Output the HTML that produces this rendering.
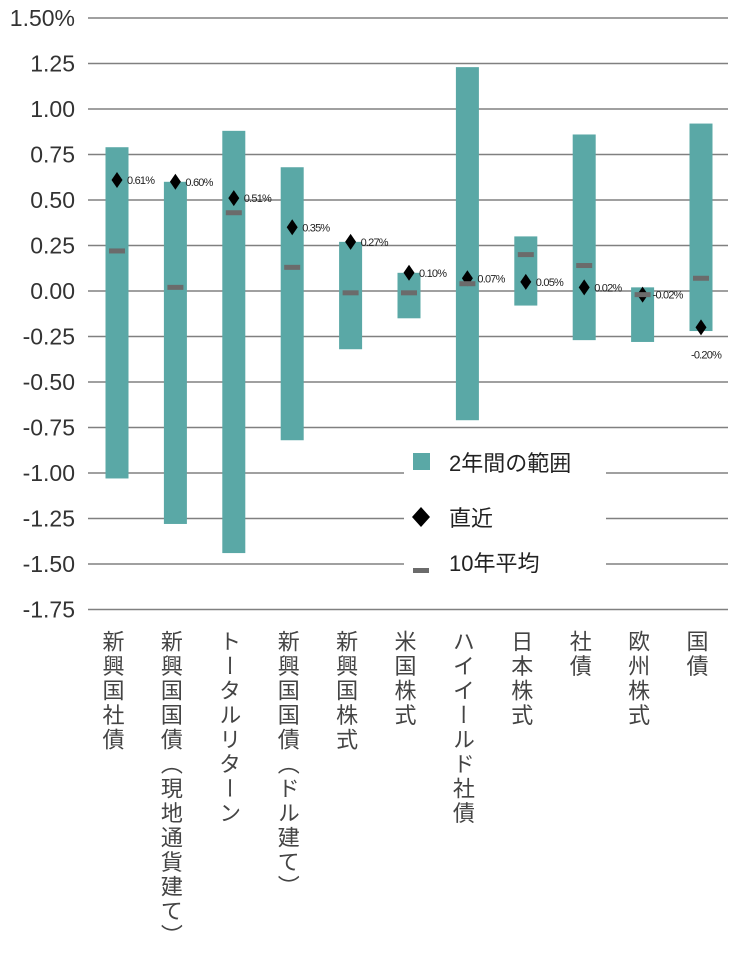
<!DOCTYPE html>
<html><head><meta charset="utf-8">
<style>
body{margin:0;background:#fff;}
svg{display:block;font-family:"Liberation Sans","Noto Sans CJK JP",sans-serif;}
</style></head>
<body>
<svg id="chart" width="736" height="958"></svg>
<script>
const categories=["新興国社債","新興国国債(現地通貨建て)","トータルリターン","新興国国債(ドル建て)","新興国株式","米国株式","ハイイールド社債","日本株式","社債","欧州株式","国債"];
const catLabels=["新興国社債","新興国国債︵現地通貨建て︶","トータルリターン","新興国国債︵ドル建て︶","新興国株式","米国株式","ハイイールド社債","日本株式","社債","欧州株式","国債"];
const highs=[0.79,0.60,0.88,0.68,0.27,0.10,1.23,0.30,0.86,0.02,0.92];
const lows=[-1.03,-1.28,-1.44,-0.82,-0.32,-0.15,-0.71,-0.08,-0.27,-0.28,-0.22];
const avgs=[0.22,0.02,0.43,0.13,-0.01,-0.01,0.04,0.20,0.14,-0.02,0.07];
const recents=[0.61,0.60,0.51,0.35,0.27,0.10,0.07,0.05,0.02,-0.02,-0.20];
const ticks=[1.5,1.25,1,0.75,0.5,0.25,0,-0.25,-0.5,-0.75,-1,-1.25,-1.5,-1.75];
const tickLabels=["1.50%","1.25","1.00","0.75","0.50","0.25","0.00","-0.25","-0.50","-0.75","-1.00","-1.25","-1.50","-1.75"];

const NS="http://www.w3.org/2000/svg";
const svg=document.getElementById('chart');
const y=v=>18+(1.5-v)*182;
const x=i=>117+i*58.4;
function mk(tag,attrs,parent){const e=document.createElementNS(NS,tag);for(const k in attrs)e.setAttribute(k,attrs[k]);(parent||svg).appendChild(e);return e;}

ticks.forEach((t,i)=>{
  const l=mk('line',{x1:88,x2:728,y1:y(t),y2:y(t),stroke:'#808080','stroke-width':1.5});
  
  
  const tx=mk('text',{x:75,y:y(t)+8,'text-anchor':'end','font-size':23,fill:'#333'});
  tx.textContent=tickLabels[i];
  
  
});

const lg=mk('rect',{x:404,y:440,width:202,height:148,fill:'#fff'});



categories.forEach((c,i)=>{
  const cx=x(i);
  const b=mk('rect',{x:cx-11.5,y:y(highs[i]),width:23,height:y(lows[i])-y(highs[i]),fill:'#5aa8a6'});
  
  
  const ry=y(recents[i]);
  const d=mk('path',{d:`M${cx},${ry-8}L${cx+5.5},${ry}L${cx},${ry+8}L${cx-5.5},${ry}Z`,fill:'#000'});
  
  
  const a=mk('rect',{x:cx-8,y:y(avgs[i])-2.5,width:16,height:5,fill:'#6b6b6b'});
  
  
  const lbl=(recents[i]).toFixed(2)+'%';
  const below=recents[i]<-0.1;
  const vt=mk('text',{x:below?cx-10:cx+10,y:below?ry+31:ry+4,'font-size':11,fill:'#222',style:'letter-spacing:-0.8px'});
  vt.textContent=lbl;
  
  
  const ct=mk('text',{x:cx-5,y:630,'font-size':22,fill:'#444',style:'writing-mode:vertical-rl;letter-spacing:2.5px'});
  ct.textContent=catLabels[i];
  
  
});

const l1=mk('rect',{x:413,y:453,width:17,height:17,fill:'#5aa8a6'});


const t1=mk('text',{x:449,y:471,'font-size':22,fill:'#222'});t1.textContent='2年間の範囲';


const l2=mk('path',{d:'M421,507L430,517L421,527L412,517Z',fill:'#000'});


const t2=mk('text',{x:449,y:526,'font-size':22,fill:'#222'});t2.textContent='直近';


const l3=mk('rect',{x:413,y:568,width:16,height:5,fill:'#6b6b6b'});


const t3=mk('text',{x:449,y:571,'font-size':22,fill:'#222'});t3.textContent='10年平均';


</script>
</body></html>
